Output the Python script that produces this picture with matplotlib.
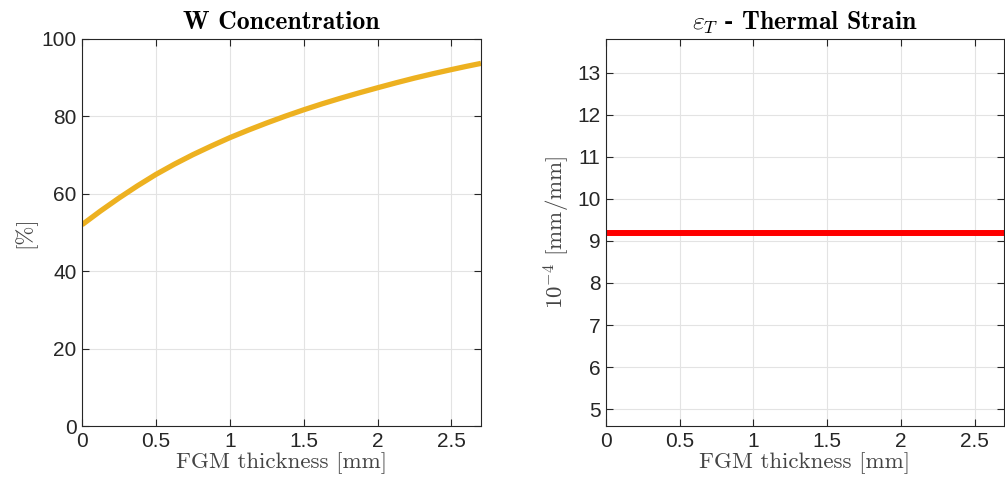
import matplotlib.pyplot as plt

plt.rcParams['mathtext.fontset'] = 'cm'
plt.rcParams['font.family'] = ['Liberation Sans', 'DejaVu Sans']

# W concentration along the FGM layer
thickness = [0.0, 0.125, 0.25, 0.375, 0.5, 0.625, 0.75, 0.875, 1.0, 1.125, 1.25, 1.375,
             1.5, 1.625, 1.75, 1.875, 2.0, 2.125, 2.25, 2.375, 2.5, 2.6, 2.7]
w_conc = [52.0, 55.55, 58.9, 62.05, 65.0, 67.65, 70.1, 72.35, 74.5, 76.45, 78.3, 80.05,
          81.7, 83.25, 84.7, 86.08, 87.4, 88.68, 89.9, 91.03, 92.1, 92.92, 93.7]

# thermal strain (x 1e-4) along the same layer
strain_x = [0.0, 2.7]
strain = [9.2, 9.2]

edge = '#262626'
grid_col = '#e3e3e3'

fig = plt.figure(figsize=(10.05, 4.83), dpi=100)
ax1 = fig.add_axes([82 / 1005, 57 / 483, 399 / 1005, 387 / 483])
ax2 = fig.add_axes([606 / 1005, 57 / 483, 398 / 1005, 387 / 483])

ax1.plot(thickness, w_conc, color='#EDB120', lw=3.8, solid_capstyle='butt')
ax1.set_xlim(0, 2.7)
ax1.set_ylim(0, 100)
ax1.set_yticks([0, 20, 40, 60, 80, 100])
ax1.set_title('W Concentration', family='cmb10', fontsize=18.5, pad=7)
ax1.set_ylabel('[%]', family='cmr10', fontsize=16.5, color='#444444', labelpad=4)

ax2.plot(strain_x, strain, color='#FF0000', lw=4.3, solid_capstyle='butt')
ax2.set_xlim(0, 2.7)
ax2.set_ylim(4.6, 13.8)
ax2.set_yticks(range(5, 14))
ax2.set_title(r'$\varepsilon_T$ - Thermal Strain', family='cmb10', fontsize=18.5, pad=7)
ax2.set_ylabel(r'$10^{-4}$ [mm/mm]', family='cmr10', fontsize=16.5, color='#444444', labelpad=4)

for ax in (ax1, ax2):
    ax.set_xticks([0, 0.5, 1, 1.5, 2, 2.5])
    ax.set_xticklabels(['0', '0.5', '1', '1.5', '2', '2.5'])
    ax.set_xlabel('FGM thickness [mm]', family='cmr10', fontsize=16.5, color='#444444', labelpad=1)
    ax.grid(True, color=grid_col, lw=0.8)
    ax.set_axisbelow(True)
    ax.tick_params(direction='in', length=5, width=0.8, colors=edge, labelsize=15,
                   top=True, right=True, pad=4)
    for s in ax.spines.values():
        s.set_color(edge)
        s.set_linewidth(0.8)

fig.savefig('out.png', dpi=100)
